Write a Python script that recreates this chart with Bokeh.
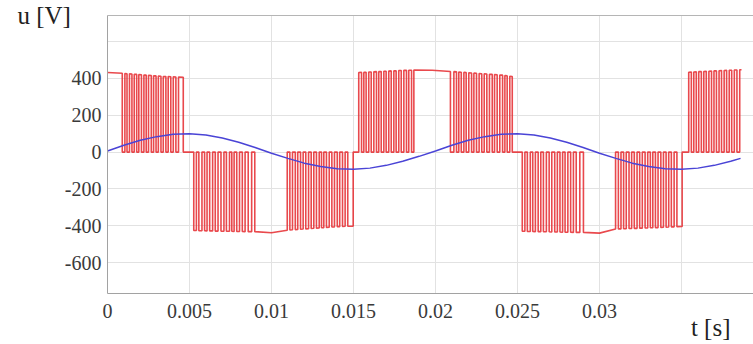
from bokeh.plotting import figure
from bokeh.models import Range1d, FixedTicker, LinearAxis, Title
from bokeh.embed import file_html
from bokeh.resources import INLINE

# ---------------- data (times in ms, voltages in V) ----------------
# PWM switching edges of the inverter voltage, grouped per pulse train,
# with the pulse height at each edge (signed).
g1_t = [0.90, 1.06, 1.19, 1.34, 1.49, 1.63, 1.78, 1.91, 2.07, 2.22, 2.36, 2.50, 2.67,
        2.81, 2.96, 3.10, 3.26, 3.40, 3.56, 3.70, 3.86, 4.01, 4.17, 4.33, 4.62]
g1_u = [428, 427, 426, 425, 424, 423, 422, 421, 420, 419, 418, 417, 416,
        415, 414, 413, 412, 411, 410, 410, 409, 409, 408, 408, 407]

g2_t = [5.26, 5.42, 5.57, 5.76, 5.92, 6.07, 6.23, 6.41, 6.57, 6.74, 6.92, 7.10,
        7.25, 7.44, 7.58, 7.72, 7.88, 8.05, 8.22, 8.39, 8.58, 8.79, 8.98]
g2_u = [-426, -426, -427, -427, -427, -428, -428, -428, -429, -429, -429, -430,
        -430, -430, -430, -431, -431, -431, -431, -432, -432, -432, -432]

g3_t = [10.96, 11.12, 11.28, 11.45, 11.60, 11.77, 11.93, 12.09, 12.26, 12.42, 12.58, 12.74,
        12.91, 13.05, 13.19, 13.35, 13.52, 13.68, 13.84, 14.01, 14.16, 14.33, 14.49, 14.65, 14.98]
g3_u = [-424, -423, -422, -421, -420, -419, -418, -417, -416, -415, -414, -413,
        -412, -411, -410, -409, -408, -407, -406, -405, -405, -404, -403, -403, -402]

g4_t = [15.32, 15.49, 15.63, 15.77, 15.93, 16.08, 16.24, 16.40, 16.54, 16.69, 16.85, 16.99,
        17.15, 17.30, 17.46, 17.60, 17.76, 17.91, 18.07, 18.23, 18.37, 18.54, 18.68]
g4_u = [432, 433, 433, 434, 435, 435, 436, 437, 437, 438, 439, 439,
        440, 441, 441, 442, 443, 443, 444, 444, 445, 445, 446]

g5_t = [20.91, 21.12, 21.28, 21.42, 21.57, 21.73, 21.87, 22.03, 22.20, 22.34, 22.50, 22.66,
        22.82, 22.97, 23.13, 23.29, 23.46, 23.60, 23.76, 23.92, 24.09, 24.23, 24.37, 24.53, 24.68]
g5_u = [438, 437, 436, 435, 434, 433, 432, 431, 430, 429, 428, 427,
        426, 425, 424, 423, 422, 421, 420, 419, 418, 416, 414, 412, 411]

g6_t = [25.29, 25.45, 25.60, 25.78, 25.93, 26.09, 26.26, 26.42, 26.58, 26.76, 26.93, 27.09,
        27.27, 27.43, 27.59, 27.75, 27.90, 28.07, 28.24, 28.41, 28.58, 28.80, 29.02]
g6_u = [-430, -430, -431, -431, -431, -432, -432, -432, -433, -433, -433, -434,
        -434, -434, -434, -435, -435, -435, -435, -436, -436, -436, -436]

g7_t = [30.98, 31.15, 31.31, 31.47, 31.63, 31.80, 31.96, 32.12, 32.29, 32.45, 32.61, 32.78,
        32.94, 33.10, 33.25, 33.41, 33.57, 33.74, 33.90, 34.06, 34.22, 34.38, 34.55, 34.72, 35.04]
g7_u = [-418, -417, -417, -416, -416, -415, -415, -414, -414, -413, -413, -412,
        -412, -411, -411, -410, -410, -409, -408, -408, -407, -406, -406, -405, -404]

g8_t = [35.44, 35.60, 35.75, 35.90, 36.05, 36.21, 36.36, 36.51, 36.67, 36.83, 36.98,
        37.13, 37.29, 37.44, 37.60, 37.75, 37.91, 38.06, 38.22, 38.38, 38.55]
g8_u = [434, 435, 435, 436, 437, 437, 438, 439, 439, 440, 441,
        441, 442, 443, 443, 444, 445, 445, 446, 446, 447]

# continuous (unswitched) stretches between pulse trains
plateau_t = [0.0, 10.0, 19.8, 30.0, 38.66]
plateau_u = [432, -438, 445, -440, 447]

# fundamental (blue) curve
blue_t = [0, 1, 2, 3, 4, 5, 6, 7, 8, 9, 10, 11, 12, 13, 14, 15, 16, 17, 18, 19,
          20, 21, 22, 23, 24, 25, 26, 27, 28, 29, 30, 31, 32, 33, 34, 35, 36, 37, 38, 38.6]
blue_u = [6, 37, 64, 84, 97, 100, 93, 77, 54, 25, -6, -34, -60, -78, -90, -93, -87, -72, -50, -23,
          6, 37, 64, 84, 97, 100, 93, 77, 54, 25, -6, -34, -60, -78, -90, -93, -87, -72, -50, -34]

x_ticks = [0, 0.005, 0.01, 0.015, 0.02, 0.025, 0.03, 0.035]
x_tick_labels = ["0", "0.005", "0.01", "0.015", "0.02", "0.025", "0.03", ""]
y_ticks = [-600, -400, -200, 0, 200, 400, 600]
y_tick_labels = ["-600", "-400", "-200", "0", "200", "400", ""]

# ---------------- assemble the switched waveform ----------------
wx, wy = [], []


def add_point(t, u):
    wx.append(t)
    wy.append(u)


def add_group(ts, us, on):
    for t, u in zip(ts, us):
        if on:
            wx.extend([t, t]); wy.extend([u, 0])
        else:
            wx.extend([t, t]); wy.extend([0, u])
        on = not on


add_point(plateau_t[0], plateau_u[0])
add_group(g1_t, g1_u, True)
add_group(g2_t, g2_u, False)
add_point(plateau_t[1], plateau_u[1])
add_group(g3_t, g3_u, True)
add_group(g4_t, g4_u, False)
add_point(plateau_t[2], plateau_u[2])
add_group(g5_t, g5_u, True)
add_group(g6_t, g6_u, False)
add_point(plateau_t[3], plateau_u[3])
add_group(g7_t, g7_u, True)
add_group(g8_t, g8_u, False)
add_point(plateau_t[4], plateau_u[4])

wx_s = [t / 1000.0 for t in wx]
blue_ts = [t / 1000.0 for t in blue_t]

# ---------------- figure ----------------
FONT = "Liberation Serif"
p = figure(width=753, height=344, output_backend="svg", toolbar_location=None,
           x_range=Range1d(0, 0.03939), y_range=Range1d(-768, 742),
           min_border_left=107, min_border_right=0, min_border_top=15, min_border_bottom=51)
p.outline_line_color = None
p.background_fill_color = "white"
p.border_fill_color = "white"

p.xaxis.ticker = FixedTicker(ticks=x_ticks)
p.xaxis.major_label_overrides = dict(zip(x_ticks, x_tick_labels))
p.yaxis.ticker = FixedTicker(ticks=y_ticks)
p.yaxis.major_label_overrides = dict(zip(y_ticks, y_tick_labels))

for ax in (p.xaxis[0], p.yaxis[0]):
    ax.axis_line_color = "#a2a2a2"
    ax.major_tick_in = 0
    ax.major_tick_out = 0
    ax.minor_tick_in = 0
    ax.minor_tick_out = 0
    ax.major_label_text_font = FONT
    ax.major_label_text_font_size = "20px"
    ax.major_label_text_color = "#3a3a3a"
p.xaxis.major_label_standoff = 10
p.yaxis.major_label_standoff = 6

# y caption as the left axis label, written horizontally at the top
yax = p.yaxis[0]
yax.axis_label = "u [V]"
yax.axis_label_orientation = "horizontal"
yax.axis_label_text_font = FONT
yax.axis_label_text_font_size = "25px"
yax.axis_label_text_font_style = "normal"
yax.axis_label_text_color = "#222222"
yax.axis_label_standoff = -9
if "axis_label_align" in yax.properties():
    yax.axis_label_align = "end"

top_axis = LinearAxis(ticker=FixedTicker(ticks=[]), axis_line_color="#b5b5b5",
                      major_tick_in=0, major_tick_out=0, minor_tick_in=0, minor_tick_out=0,
                      major_label_text_font_size="0px", major_label_standoff=0)
p.add_layout(top_axis, "above")

# x caption as a title under the axis, right aligned
p.add_layout(Title(text="t [s]", align="right", offset=23, standoff=-13,
                   vertical_align="top", text_font=FONT, text_font_size="25px",
                   text_font_style="normal", text_color="#222222"), "below")

p.xgrid.grid_line_color = "#e2e2e2"
p.ygrid.grid_line_color = "#e2e2e2"

p.line(wx_s, wy, line_color="#e5292e", line_width=1.6, line_alpha=0.85)
p.line(blue_ts, blue_u, line_color="#4a44d6", line_width=1.5)

open("out.html", "w").write(file_html(p, INLINE))
